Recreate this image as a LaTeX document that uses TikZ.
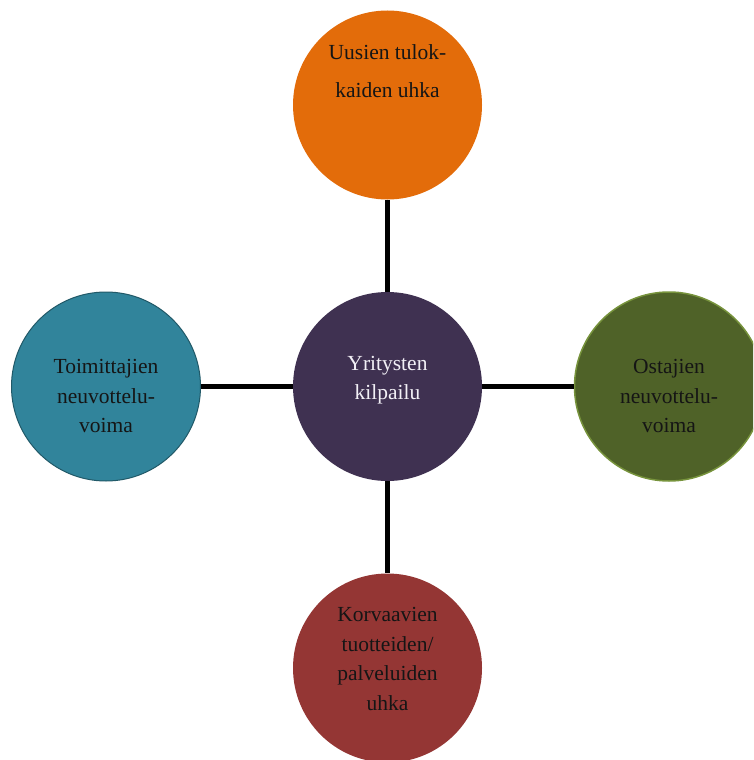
\documentclass[tikz,border=0pt]{standalone}
\usepackage{fontspec}
\setmainfont{Liberation Serif}
\definecolor{corange}{HTML}{E36C0A}
\definecolor{cpurple}{HTML}{3F3151}
\definecolor{cteal}{HTML}{31849B}
\definecolor{ctealb}{HTML}{215968}
\definecolor{cgreen}{HTML}{4F6228}
\definecolor{cgreenb}{HTML}{77933C}
\definecolor{cred}{HTML}{943634}
\definecolor{ctext}{HTML}{151515}
\definecolor{ctextw}{HTML}{F2F0F6}
\begin{document}
\begin{tikzpicture}[x=1pt,y=-1pt,
  disc/.style={circle,minimum size=189pt,inner sep=0pt},
  lbl/.style={align=center,text=ctext,font=\fontsize{21.5}{29.5}\selectfont},
  conn/.style={line width=5pt,black}]
\useasboundingbox (0,0) rectangle (753,760);
\clip (0,0) rectangle (753,760);
\node[disc,fill=corange] (t) at (387.5,105) {};
\node[disc,fill=cpurple] (c) at (387.5,386.5) {};
\node[disc,fill=cteal,draw=ctealb,line width=1pt] (l) at (106,386.5) {};
\node[disc,fill=cgreen,draw=cgreenb,line width=1.5pt] (r) at (669,386.5) {};
\node[disc,fill=cred] (b) at (387.5,668) {};
\draw[conn] (c) -- (t);
\draw[conn] (c) -- (l);
\draw[conn] (c) -- (r);
\draw[conn] (c) -- (b);
\node[lbl,font=\fontsize{21.5}{38}\selectfont] (tt) at (387.5,71) {Uusien tulok-\\kaiden uhka};
\node[lbl,text=ctextw] (ct) at (387.5,380) {Yritysten\\kilpailu};
\node[lbl] (lt) at (106,396) {Toimittajien\\neuvottelu-\\voima};
\node[lbl] (rt) at (669,396) {Ostajien\\neuvottelu-\\voima};
\node[lbl] (bt) at (387.5,659) {Korvaavien\\tuotteiden/\\palveluiden\\uhka};
\end{tikzpicture}
\end{document}
